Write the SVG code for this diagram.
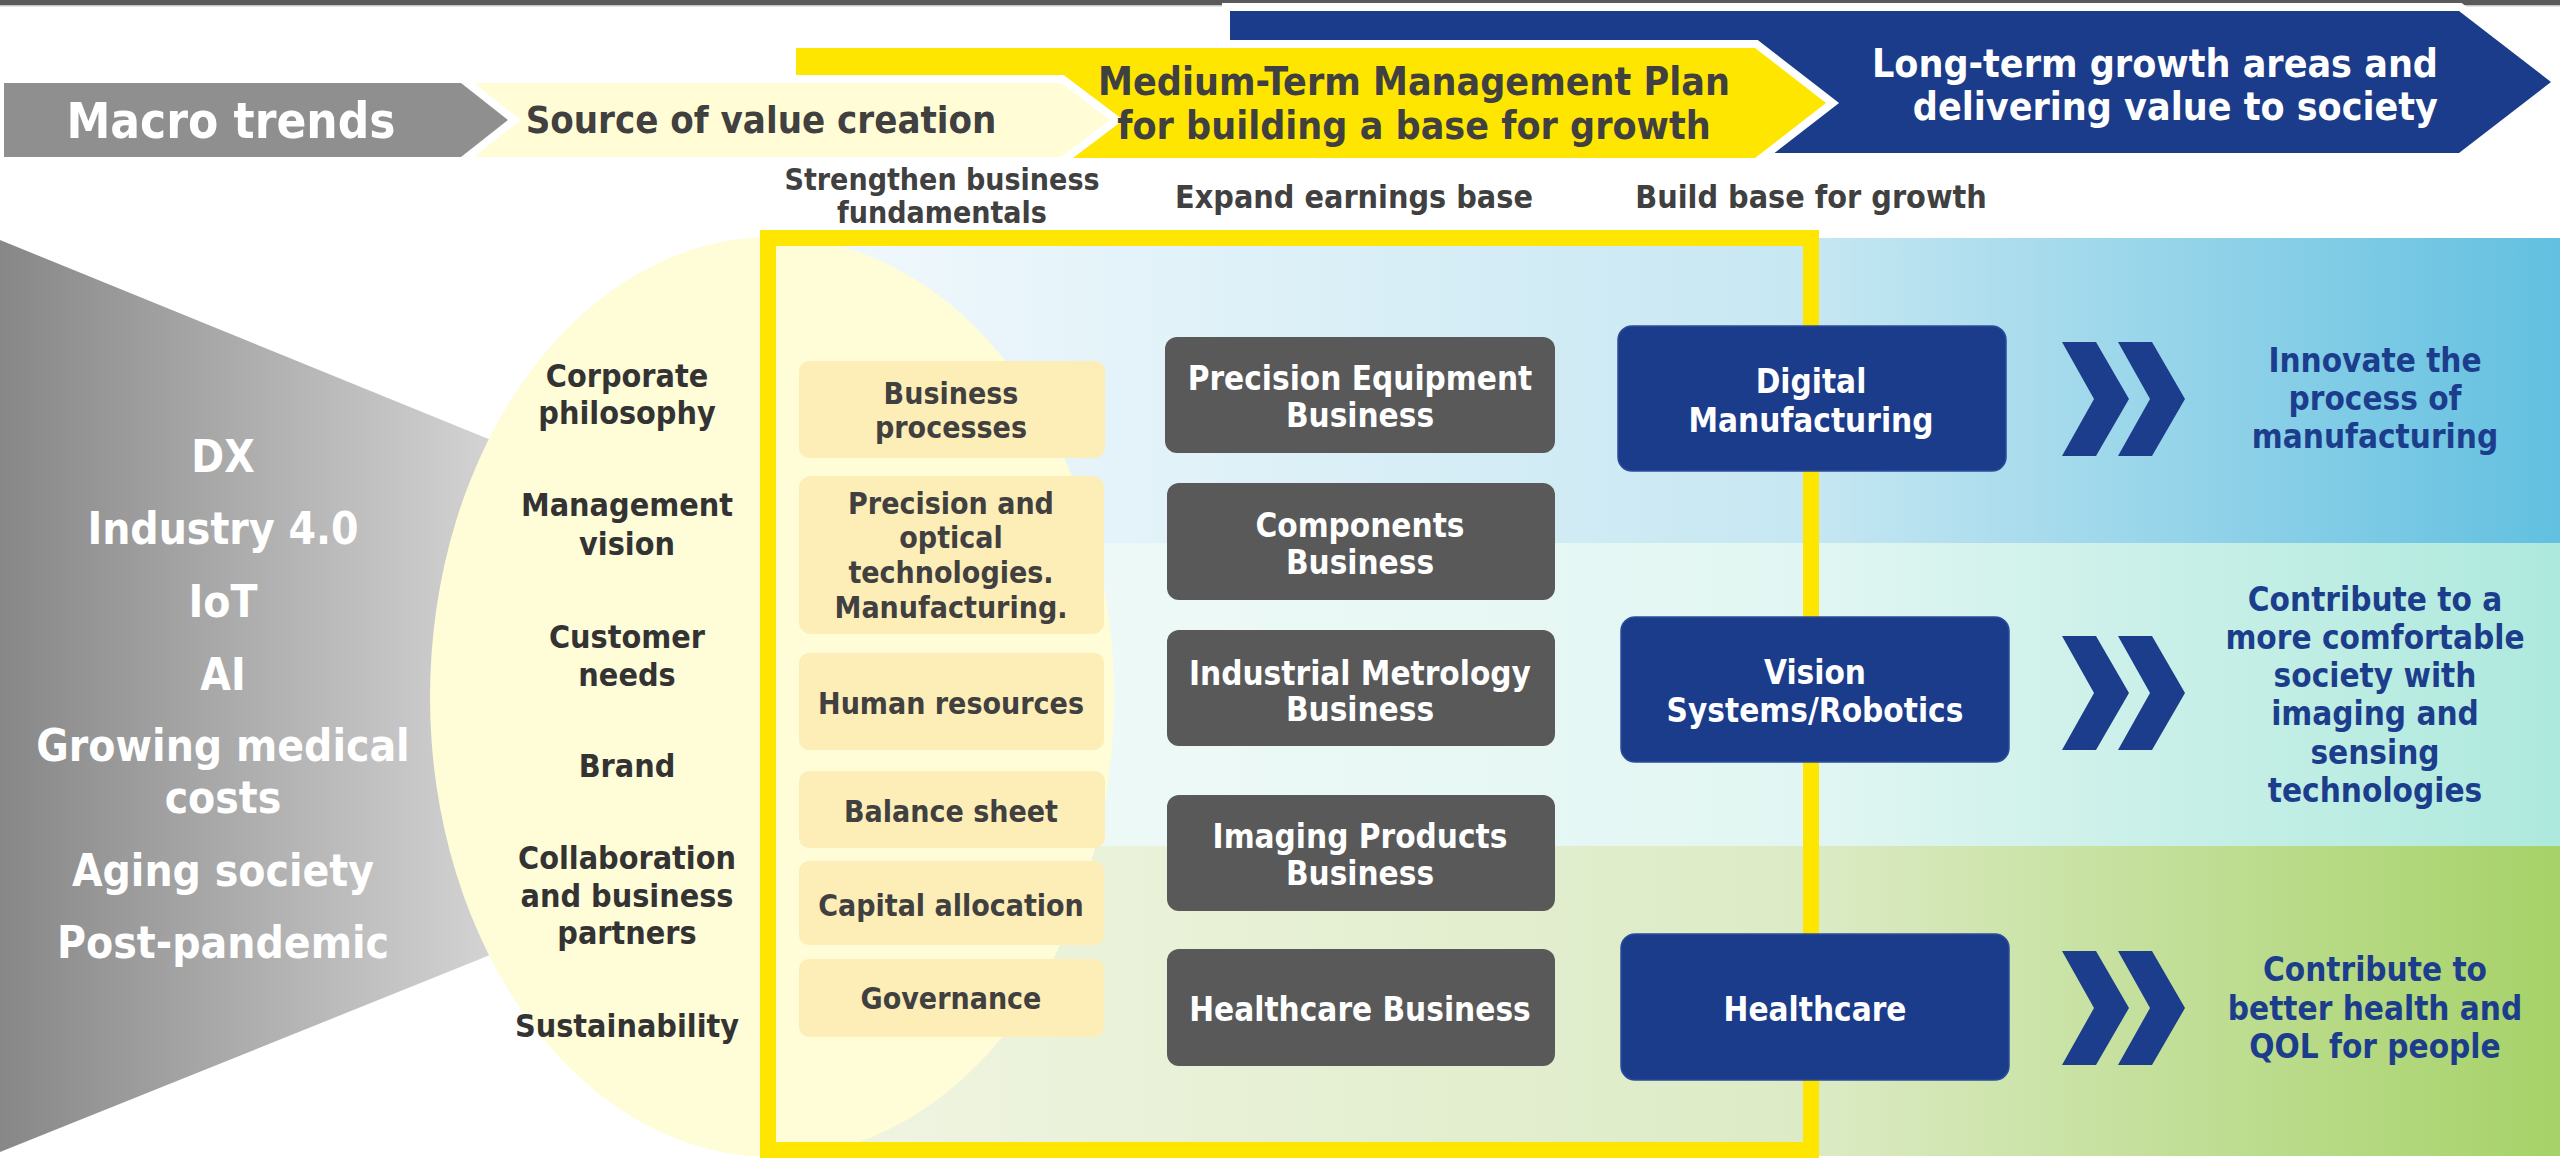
<svg xmlns="http://www.w3.org/2000/svg" width="2560" height="1161" viewBox="0 0 2560 1161">
<defs>
<style>
text{font-family:"DejaVu Sans Condensed","DejaVu Sans",sans-serif;font-stretch:condensed;font-weight:bold;text-anchor:middle}
.hdr{font-size:39px}
.w{fill:#ffffff}
.dk{fill:#404040}
.el{fill:#333333;font-size:32px}
.bg{fill:#404040;font-size:30px}
.gb{fill:#ffffff;font-size:33px}
.bb{fill:#ffffff;font-size:33px}
.rt{fill:#1c3d8c;font-size:33px}
.mt{fill:#ffffff;font-size:44px}
.col{fill:#404040;font-size:32px}
.arrow{stroke:#ffffff;stroke-width:16;paint-order:stroke;stroke-linejoin:miter}
.beige{fill:#fdedb7}
.gbox{fill:#595959}
.bbox{fill:#1b3c8a;stroke:#2b4c9c;stroke-width:1.5}
.chev{fill:#1c3d8c}
</style>
<linearGradient id="gTrap" x1="0" y1="0" x2="490" y2="0" gradientUnits="userSpaceOnUse">
<stop offset="0" stop-color="#878787"/><stop offset="1" stop-color="#d3d3d3"/>
</linearGradient>
<linearGradient id="gB1" x1="776" y1="0" x2="2560" y2="0" gradientUnits="userSpaceOnUse">
<stop offset="0" stop-color="#f3f9fd"/><stop offset="0.58" stop-color="#c6e7f2"/><stop offset="1" stop-color="#62c0e0"/>
</linearGradient>
<linearGradient id="gB2" x1="776" y1="0" x2="2560" y2="0" gradientUnits="userSpaceOnUse">
<stop offset="0" stop-color="#f4fbfa"/><stop offset="0.58" stop-color="#e1f6f2"/><stop offset="1" stop-color="#aee9dd"/>
</linearGradient>
<linearGradient id="gB3" x1="776" y1="0" x2="2560" y2="0" gradientUnits="userSpaceOnUse">
<stop offset="0" stop-color="#f1f5e3"/><stop offset="0.58" stop-color="#dcebc5"/><stop offset="1" stop-color="#a6d268"/>
</linearGradient>
</defs>
<rect width="2560" height="1161" fill="#ffffff"/>
<rect x="0" y="0" width="2560" height="5" fill="#5a5a5a"/>
<rect x="0" y="5" width="2560" height="1.5" fill="#c8c8c8"/>

<g id="header-arrows">
<polygon id="arrow-longterm" class="arrow" fill="#1b3c8a" points="1230,11 2459,11 2551,82 2459,153 1230,153"/>
<polygon id="arrow-midterm" class="arrow" fill="#ffe600" points="796,48 1755,48 1826,103 1755,158 796,158"/>
<polygon id="arrow-source" class="arrow" fill="#fffcd6" points="440,83 1061,83 1110,120 1061,157 440,157"/>
<polygon id="arrow-macro" class="arrow" fill="#8f8f8f" points="4,83 461,83 508,120 461,157 4,157"/>
<text class="w" x="231" y="138" style="font-size:49px">Macro trends</text>
<text class="dk" x="761" y="133" style="font-size:38px">Source of value creation</text>
<text class="dk hdr" x="1414" y="95">Medium-Term Management Plan</text>
<text class="dk hdr" x="1414" y="139">for building a base for growth</text>
<text class="w hdr" x="2438" y="77" style="text-anchor:end">Long-term growth areas and</text>
<text class="w hdr" x="2438" y="120" style="text-anchor:end">delivering value to society</text>
</g>

<g id="column-headers">
<text class="col" x="942" y="190" style="font-size:30px">Strengthen business</text>
<text class="col" x="942" y="223" style="font-size:30px">fundamentals</text>
<text class="col" x="1354" y="208">Expand earnings base</text>
<text class="col" x="1811" y="208">Build base for growth</text>
</g>

<g id="bands">
<rect x="776" y="238" width="1784" height="305" fill="url(#gB1)"/>
<rect x="776" y="543" width="1784" height="303" fill="url(#gB2)"/>
<rect x="776" y="846" width="1784" height="310" fill="url(#gB3)"/>
</g>

<g id="macro-trends">
<polygon fill="url(#gTrap)" points="0,240 560,468 560,927 0,1152"/>
<text class="mt" x="223" y="472">DX</text>
<text class="mt" x="223" y="544">Industry 4.0</text>
<text class="mt" x="223" y="617">IoT</text>
<text class="mt" x="223" y="690">AI</text>
<text class="mt" x="223" y="761">Growing medical</text>
<text class="mt" x="223" y="813">costs</text>
<text class="mt" x="223" y="886">Aging society</text>
<text class="mt" x="223" y="958">Post-pandemic</text>
</g>

<g id="value-source">
<ellipse cx="772" cy="697" rx="342" ry="460" fill="#fffcd8"/>
<text class="el" x="627" y="387">Corporate</text>
<text class="el" x="627" y="424">philosophy</text>
<text class="el" x="627" y="516">Management</text>
<text class="el" x="627" y="555">vision</text>
<text class="el" x="627" y="648">Customer</text>
<text class="el" x="627" y="686">needs</text>
<text class="el" x="627" y="777">Brand</text>
<text class="el" x="627" y="869">Collaboration</text>
<text class="el" x="627" y="907">and business</text>
<text class="el" x="627" y="944">partners</text>
<text class="el" x="627" y="1037">Sustainability</text>
</g>

<rect id="plan-frame" x="768" y="238" width="1043" height="912" fill="none" stroke="#ffe600" stroke-width="16"/>

<g id="fundamentals">
<g id="f-business-processes"><rect class="beige" x="799" y="361" width="306" height="97" rx="10"/>
<text class="bg" x="951" y="404">Business</text><text class="bg" x="951" y="438">processes</text></g>
<g id="f-precision"><rect class="beige" x="799" y="476" width="305" height="158" rx="12"/>
<text class="bg" x="951" y="514">Precision and</text><text class="bg" x="951" y="548">optical</text><text class="bg" x="951" y="583">technologies.</text><text class="bg" x="951" y="618">Manufacturing.</text></g>
<g id="f-human"><rect class="beige" x="799" y="653" width="305" height="97" rx="10"/>
<text class="bg" x="951" y="714">Human resources</text></g>
<g id="f-balance"><rect class="beige" x="799" y="771" width="306" height="77" rx="10"/>
<text class="bg" x="951" y="822">Balance sheet</text></g>
<g id="f-capital"><rect class="beige" x="799" y="861" width="305" height="84" rx="10"/>
<text class="bg" x="951" y="916">Capital allocation</text></g>
<g id="f-governance"><rect class="beige" x="799" y="959" width="305" height="78" rx="10"/>
<text class="bg" x="951" y="1009">Governance</text></g>
</g>

<g id="earnings">
<g id="e-precision"><rect class="gbox" x="1165" y="337" width="390" height="116" rx="12"/>
<text class="gb" x="1360" y="390">Precision Equipment</text><text class="gb" x="1360" y="427">Business</text></g>
<g id="e-components"><rect class="gbox" x="1167" y="483" width="388" height="117" rx="12"/>
<text class="gb" x="1360" y="537">Components</text><text class="gb" x="1360" y="574">Business</text></g>
<g id="e-metrology"><rect class="gbox" x="1167" y="630" width="388" height="116" rx="12"/>
<text class="gb" x="1360" y="685">Industrial Metrology</text><text class="gb" x="1360" y="721">Business</text></g>
<g id="e-imaging"><rect class="gbox" x="1167" y="795" width="388" height="116" rx="12"/>
<text class="gb" x="1360" y="848">Imaging Products</text><text class="gb" x="1360" y="885">Business</text></g>
<g id="e-healthcare"><rect class="gbox" x="1167" y="949" width="388" height="117" rx="12"/>
<text class="gb" x="1360" y="1021">Healthcare Business</text></g>
</g>

<g id="growth">
<g id="g-digital"><rect class="bbox" x="1618" y="326" width="388" height="145" rx="14"/>
<text class="bb" x="1811" y="393">Digital</text><text class="bb" x="1811" y="432">Manufacturing</text></g>
<g id="g-vision"><rect class="bbox" x="1621" y="617" width="388" height="145" rx="14"/>
<text class="bb" x="1815" y="684">Vision</text><text class="bb" x="1815" y="722">Systems/Robotics</text></g>
<g id="g-healthcare"><rect class="bbox" x="1621" y="934" width="388" height="146" rx="14"/>
<text class="bb" x="1815" y="1021">Healthcare</text></g>
</g>

<g id="connectors">
<polygon class="chev" points="2062,342 2096,342 2129,399 2096,456 2062,456 2094,399"/>
<polygon class="chev" points="2118,342 2152,342 2185,399 2152,456 2118,456 2150,399"/>
<polygon class="chev" points="2062,636 2096,636 2129,693 2096,750 2062,750 2094,693"/>
<polygon class="chev" points="2118,636 2152,636 2185,693 2152,750 2118,750 2150,693"/>
<polygon class="chev" points="2062,951 2096,951 2129,1008 2096,1065 2062,1065 2094,1008"/>
<polygon class="chev" points="2118,951 2152,951 2185,1008 2152,1065 2118,1065 2150,1008"/>
</g>

<g id="value-to-society">
<g id="v-manufacturing">
<text class="rt" x="2375" y="372">Innovate the</text><text class="rt" x="2375" y="410">process of</text><text class="rt" x="2375" y="448">manufacturing</text></g>
<g id="v-society">
<text class="rt" x="2375" y="611">Contribute to a</text><text class="rt" x="2375" y="649">more comfortable</text><text class="rt" x="2375" y="687">society with</text><text class="rt" x="2375" y="725">imaging and</text><text class="rt" x="2375" y="764">sensing</text><text class="rt" x="2375" y="802">technologies</text></g>
<g id="v-health">
<text class="rt" x="2375" y="981">Contribute to</text><text class="rt" x="2375" y="1020">better health and</text><text class="rt" x="2375" y="1058">QOL for people</text></g>
</g>
</svg>
